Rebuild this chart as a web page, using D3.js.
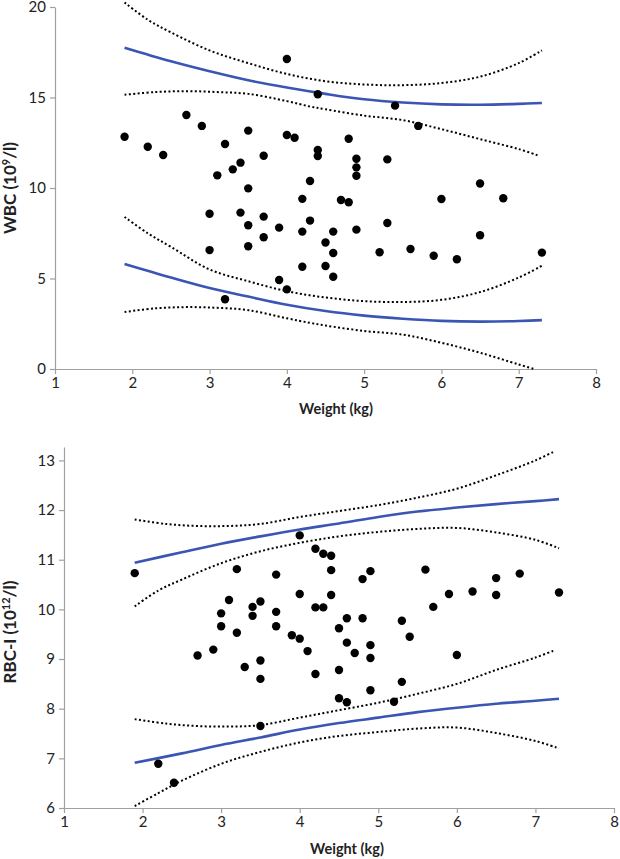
<!DOCTYPE html>
<html><head><meta charset="utf-8">
<script src="https://cdn.jsdelivr.net/npm/d3@7"></script>
<style>body{margin:0;background:#fff}svg{display:block}text{font-family:Lato,"Open Sans",sans-serif}</style>
</head><body>
<svg id="c" width="620" height="859"></svg>
<script>
// ---------- Top chart: WBC ----------
const wbcWeight = [1.9,2.2,2.4,2.7,2.9,3.2,3.1,3.3,3.4,3.5,3.5,3.7,4.0,4.0,4.1,4.3,4.2,4.4,5.4,5.7,4.8,4.4,4.4,4.9,4.9,4.9,5.3,6.5,3.0,3.0,3.4,3.5,3.5,3.7,3.7,3.9,4.3,4.2,4.2,3.9,4.0,3.2,4.7,4.8,6.0,6.8,4.6,4.9,5.3,4.5,4.6,5.2,5.6,5.9,6.2,6.5,7.3,4.5,4.6];
const wbcValue  = [12.83,12.28,11.82,14.03,13.43,12.43,10.70,11.03,11.40,13.17,9.98,11.78,17.13,12.93,12.78,10.39,9.40,15.18,14.55,13.43,12.72,12.10,11.77,11.62,11.14,10.68,11.58,10.25,8.58,6.57,8.64,7.94,6.78,8.42,7.28,7.81,8.20,7.59,5.65,4.92,4.40,3.85,9.34,9.21,9.39,9.43,7.59,7.70,8.07,6.99,6.41,6.45,6.63,6.26,6.06,7.39,6.43,5.69,5.10];

const wbcUpperX = [1.9,2.5,3,3.5,4,4.5,5,5.5,6,6.5,7,7.3];
const wbcUpperY = [17.75,17.0,16.45,15.95,15.55,15.2,14.9,14.72,14.62,14.6,14.65,14.7];
const wbcLowerX = [1.9,2.5,3,3.5,4,4.5,5,5.5,6,6.5,7,7.3];
const wbcLowerY = [5.8,5.05,4.47,4.0,3.55,3.2,2.95,2.78,2.66,2.62,2.65,2.7];
const wbcUpOuterX = [1.9,2.2,2.5,3,3.5,4,4.5,5,5.5,6,6.5,7,7.3];
const wbcUpOuterY = [20.25,19.3,18.6,17.6,16.9,16.3,15.9,15.72,15.68,15.8,16.15,16.9,17.6];
const wbcUpInnerX = [1.9,2.3,2.7,3.1,3.5,4,4.3,4.5,5,5.5,6,6.5,7,7.25];
const wbcUpInnerY = [15.15,15.3,15.35,15.3,15.2,14.8,14.5,14.35,14.0,13.75,13.25,12.7,12.15,11.8];
const wbcLoInnerX = [1.9,2.2,2.5,3,3.5,4,4.5,5,5.5,6,6.5,7,7.3];
const wbcLoInnerY = [8.4,7.5,6.75,5.5,4.85,4.3,3.95,3.75,3.7,3.82,4.25,5.05,5.7];
const wbcLoOuterX = [1.9,2.3,2.7,3.1,3.5,4,4.3,4.5,5,5.5,6,6.5,7,7.2];
const wbcLoOuterY = [3.15,3.35,3.42,3.38,3.25,2.8,2.55,2.4,2.1,1.9,1.45,0.9,0.25,0.0];
const wbcYTicks = [0,5,10,15,20];

// ---------- Bottom chart: RBC-I ----------
const rbcWeight = [1.9,3.2,3.7,4.0,4.0,3.1,3.0,3.0,3.2,3.4,3.4,3.5,3.7,3.7,3.9,4.0,4.2,4.3,4.4,4.4,4.8,4.9,5.6,6.5,6.8,4.4,4.2,4.3,5.9,6.2,6.5,7.3,5.7,4.6,4.8,4.5,5.3,5.4,4.6,4.9,2.9,2.7,4.1,3.5,3.3,3.5,4.2,4.7,4.9,6.0,4.5,5.3,4.9,4.5,4.6,5.2,3.5,2.2,2.4];
const rbcValue  = [10.73,10.81,10.70,11.49,10.31,10.19,9.92,9.66,9.53,10.05,9.87,10.16,9.95,9.66,9.48,9.41,11.22,11.12,11.08,10.79,10.61,10.77,10.80,10.63,10.72,10.29,10.04,10.04,10.31,10.36,10.29,10.34,10.05,9.82,9.82,9.62,9.77,9.45,9.33,9.28,9.19,9.07,9.16,8.97,8.84,8.60,8.70,9.12,9.02,9.08,8.78,8.54,8.37,8.21,8.13,8.14,7.65,6.89,6.51];

const rbcUpperX = [1.9,2.5,3,3.5,4,4.5,5,5.5,6,6.5,7,7.3];
const rbcUpperY = [10.94,11.15,11.32,11.47,11.61,11.73,11.86,11.97,12.05,12.12,12.18,12.22];
const rbcLowerX = [1.9,2.5,3,3.5,4,4.5,5,5.5,6,6.5,7,7.3];
const rbcLowerY = [6.91,7.1,7.27,7.42,7.58,7.71,7.82,7.93,8.02,8.1,8.16,8.2];
const rbcUpOuterX = [1.9,2.3,2.7,3.1,3.5,4,4.5,5,5.5,6,6.5,7,7.25];
const rbcUpOuterY = [11.81,11.72,11.68,11.68,11.72,11.86,11.98,12.1,12.25,12.43,12.7,13.0,13.19];
const rbcUpInnerX = [1.9,2.2,2.5,3,3.5,4,4.5,5,5.5,6,6.5,7,7.3];
const rbcUpInnerY = [10.06,10.38,10.6,10.93,11.17,11.34,11.47,11.56,11.62,11.64,11.55,11.4,11.23];
const rbcLoInnerX = [1.9,2.3,2.7,3.1,3.5,4,4.5,5,5.5,6,6.5,7,7.25];
const rbcLoInnerY = [7.79,7.7,7.65,7.64,7.67,7.82,7.97,8.12,8.3,8.5,8.78,9.03,9.18];
const rbcLoOuterX = [1.9,2.2,2.5,3,3.5,4,4.5,5,5.5,6,6.5,7,7.3];
const rbcLoOuterY = [6.04,6.3,6.55,6.89,7.13,7.32,7.45,7.53,7.6,7.62,7.51,7.35,7.2];
const rbcYTicks = [6,7,8,9,10,11,12,13];

const xTicks = [1,2,3,4,5,6,7,8];

const svg = d3.select("#c");
const AXIS = "#a0a0a0", BLUE = "#3a55b4";

function panel(cfg){
  const g = svg.append("g");
  const x = d3.scaleLinear().domain([1,8]).range(cfg.xr);
  const y = d3.scaleLinear().domain(cfg.yd).range(cfg.yr);
  const fmt = d3.format("d");
  const xa = g.append("g").attr("transform",`translate(0,${cfg.yr[0]})`)
    .call(d3.axisBottom(x).tickValues(xTicks).tickFormat(fmt).tickSize(5).tickPadding(3).tickSizeOuter(0));
  const ya = g.append("g").attr("transform",`translate(${cfg.xr[0]},0)`)
    .call(d3.axisLeft(y).tickValues(cfg.yt).tickFormat(fmt).tickSize(5).tickPadding(4).tickSizeOuter(0));
  [xa,ya].forEach(a=>{
    a.selectAll("path,line").attr("stroke",AXIS).attr("stroke-width",1.2);
    a.selectAll("text").attr("fill","#222").style("font-size","15px").style("font-family","Lato, 'Open Sans', sans-serif");
  });
  const line = d3.line().x(d=>x(d[0])).y(d=>y(d[1])).curve(d3.curveCatmullRom);
  cfg.dotted.forEach(([xs,ys])=>{
    g.append("path").attr("d",line(xs.map((v,i)=>[v,ys[i]])))
      .attr("fill","none").attr("stroke","#000").attr("stroke-width",2).attr("stroke-dasharray","2 2.4");
  });
  cfg.solid.forEach(([xs,ys])=>{
    g.append("path").attr("d",line(xs.map((v,i)=>[v,ys[i]])))
      .attr("fill","none").attr("stroke",BLUE).attr("stroke-width",2.6);
  });
  g.selectAll("circle.pt").data(cfg.px.map((v,i)=>[v,cfg.py[i]])).enter().append("circle")
    .attr("cx",d=>x(d[0])).attr("cy",d=>y(d[1])).attr("r",4.2).attr("fill","#000");
  g.append("text").attr("x",cfg.xtx).attr("y",cfg.xty).attr("text-anchor","middle")
    .style("font-size","14.5px").style("font-weight","bold").attr("fill","#222").text("Weight (kg)");
  const yt = g.append("text").attr("transform",`translate(16,${cfg.ytc}) rotate(-90)`).attr("text-anchor","middle")
    .style("font-size","17px").style("font-weight","bold").attr("fill","#222");
  yt.append("tspan").text(cfg.ylab[0]);
  yt.append("tspan").attr("dy",-6).style("font-size","11px").text(cfg.ylab[1]);
  yt.append("tspan").attr("dy",6).text(cfg.ylab[2]);
}

panel({xr:[55,596], yd:[0,20], yr:[369,7], yt:wbcYTicks, px:wbcWeight, py:wbcValue,
  solid:[[wbcUpperX,wbcUpperY],[wbcLowerX,wbcLowerY]],
  dotted:[[wbcUpOuterX,wbcUpOuterY],[wbcUpInnerX,wbcUpInnerY],[wbcLoInnerX,wbcLoInnerY],[wbcLoOuterX,wbcLoOuterY]],
  xtx:336, xty:414, ytc:188, ylab:["WBC (10","9","/l)"]});

panel({xr:[64,614], yd:[6,13.27], yr:[808,447], yt:rbcYTicks, px:rbcWeight, py:rbcValue,
  solid:[[rbcUpperX,rbcUpperY],[rbcLowerX,rbcLowerY]],
  dotted:[[rbcUpOuterX,rbcUpOuterY],[rbcUpInnerX,rbcUpInnerY],[rbcLoInnerX,rbcLoInnerY],[rbcLoOuterX,rbcLoOuterY]],
  xtx:347, xty:854, ytc:632, ylab:["RBC-I (10","12","/l)"]});
</script>
</body></html>
